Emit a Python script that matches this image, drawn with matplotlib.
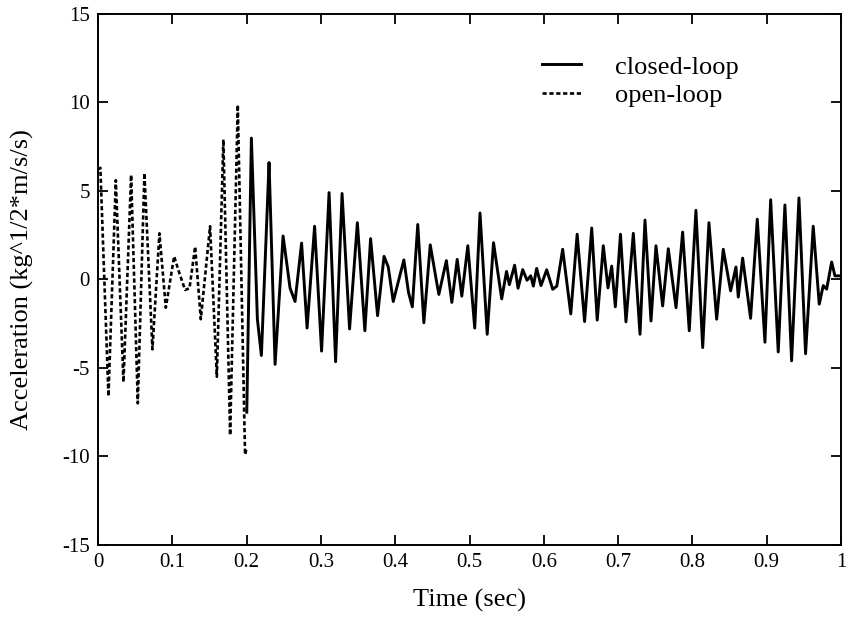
#!/usr/bin/env python3
"""
Acceleration response: open-loop vs closed-loop.
"""

import matplotlib
matplotlib.use("Agg")
import matplotlib.pyplot as plt
from matplotlib import ticker

# open-loop response (peaks and troughs)
open_t = [0.000, 0.003, 0.0139, 0.0238, 0.0341, 0.0444, 0.0534, 0.0623,
          0.0731, 0.0825, 0.0911, 0.1023, 0.1090, 0.1171, 0.1230, 0.1306,
          0.1382, 0.1507, 0.1598, 0.1686, 0.1777, 0.1880, 0.1978, 0.2000]
open_acc = [6.2, 6.3, -6.6, 5.6, -5.8, 5.9, -7.0, 6.0,
            -3.95, 2.6, -1.6, 1.3, 0.4, -0.6, -0.5, 1.85,
            -2.25, 3.0, -5.5, 7.9, -8.8, 9.85, -9.9, -9.5]

# closed-loop response (peaks and troughs)
closed_t = [0.2001, 0.2063, 0.2144, 0.2198, 0.2288, 0.2301, 0.2382, 0.2490,
            0.2584, 0.2651, 0.2739, 0.2813, 0.2914, 0.3008, 0.3109, 0.3197,
            0.3284, 0.3385, 0.3490, 0.3591, 0.3668, 0.3762, 0.3849, 0.3906,
            0.3973, 0.4116, 0.4179, 0.4230, 0.4303, 0.4385, 0.4471, 0.4559,
            0.4587, 0.4616, 0.4688, 0.4762, 0.4834, 0.4896, 0.4977, 0.5070,
            0.5141, 0.5238, 0.5323, 0.5433, 0.5498, 0.5536, 0.5607, 0.5653,
            0.5716, 0.5774, 0.5824, 0.5859, 0.5904, 0.5962, 0.6039, 0.6120,
            0.6175, 0.6254, 0.6363, 0.6449, 0.6549, 0.6645, 0.6719, 0.6801,
            0.6864, 0.6914, 0.6963, 0.7032, 0.7106, 0.7205, 0.7295, 0.7362,
            0.7443, 0.7510, 0.7600, 0.7676, 0.7780, 0.7869, 0.7958, 0.8048,
            0.8139, 0.8223, 0.8327, 0.8416, 0.8515, 0.8587, 0.8618, 0.8677,
            0.8784, 0.8874, 0.8977, 0.9054, 0.9156, 0.9246, 0.9336, 0.9435,
            0.9524, 0.9627, 0.9708, 0.9762, 0.9808, 0.9875, 0.9919, 0.9987]
closed_acc = [-7.5, 7.98, -2.25, -4.3, 5.2, 6.6, -4.8, 2.45,
              -0.5, -1.25, 2.05, -2.75, 3.0, -4.05, 4.9, -4.65,
              4.85, -2.8, 3.2, -2.9, 2.3, -2.05, 1.3, 0.7,
              -1.25, 1.1, -0.75, -1.55, 3.1, -2.45, 1.95, -0.2,
              -0.85, -0.3, 1.06, -1.3, 1.13, -0.95, 1.9, -2.75,
              3.75, -3.1, 2.07, -1.1, 0.45, -0.3, 0.8, -0.5,
              0.55, -0.05, 0.2, -0.38, 0.62, -0.35, 0.54, -0.56,
              -0.38, 1.7, -1.95, 2.55, -2.38, 2.9, -2.3, 1.9,
              -0.48, 0.75, -1.55, 2.55, -2.4, 2.6, -3.1, 3.35,
              -2.35, 1.9, -1.5, 1.73, -1.6, 2.67, -2.9, 3.9,
              -3.85, 3.2, -2.25, 1.7, -0.65, 0.7, -1.0, 1.2,
              -2.2, 3.4, -3.55, 4.5, -4.1, 4.2, -4.6, 4.6,
              -4.2, 3.0, -1.4, -0.35, -0.55, 0.98, 0.2, 0.2]

x_ticks = [0, 0.1, 0.2, 0.3, 0.4, 0.5, 0.6, 0.7, 0.8, 0.9, 1]
x_labels = ["0", "0.1", "0.2", "0.3", "0.4", "0.5", "0.6", "0.7", "0.8",
            "0.9", "1"]
y_ticks = [-15, -10, -5, 0, 5, 10, 15]

plt.rcParams["font.family"] = ["Liberation Serif", "DejaVu Serif"]
plt.rcParams["axes.unicode_minus"] = False

fig = plt.figure(figsize=(8.46, 6.25), dpi=100)
ax = fig.add_axes([0.116, 0.128, 0.878, 0.85])

ax.plot(closed_t, closed_acc, color="black", linewidth=2.1,
        label="closed-loop")
ax.plot(open_t, open_acc, color="black", linewidth=1.9,
        linestyle=(0, (1.6, 1.0)), label="open-loop")

ax.set_xlim(0, 1)
ax.set_ylim(-15, 15)
ax.set_xticks(x_ticks)
ax.set_xticklabels(x_labels)
ax.set_yticks(y_ticks)
ax.yaxis.set_major_formatter(ticker.FuncFormatter(lambda v, pos: f"{v:g}"))
ax.tick_params(direction="in", length=7, width=1.3, top=True, right=True,
               labelsize=15, pad=6)
for spine in ax.spines.values():
    spine.set_linewidth(1.4)

ax.set_xlabel("Time (sec)", fontsize=19, labelpad=12)
ax.set_ylabel("Acceleration (kg^1/2*m/s/s)", fontsize=19, labelpad=20)

ax.legend(loc="upper left", bbox_to_anchor=(0.598, 0.922), frameon=False,
          fontsize=19, handlelength=1.45, handletextpad=1.3,
          labelspacing=0.18, borderaxespad=0, borderpad=0)

fig.savefig("out.png", dpi=100)
